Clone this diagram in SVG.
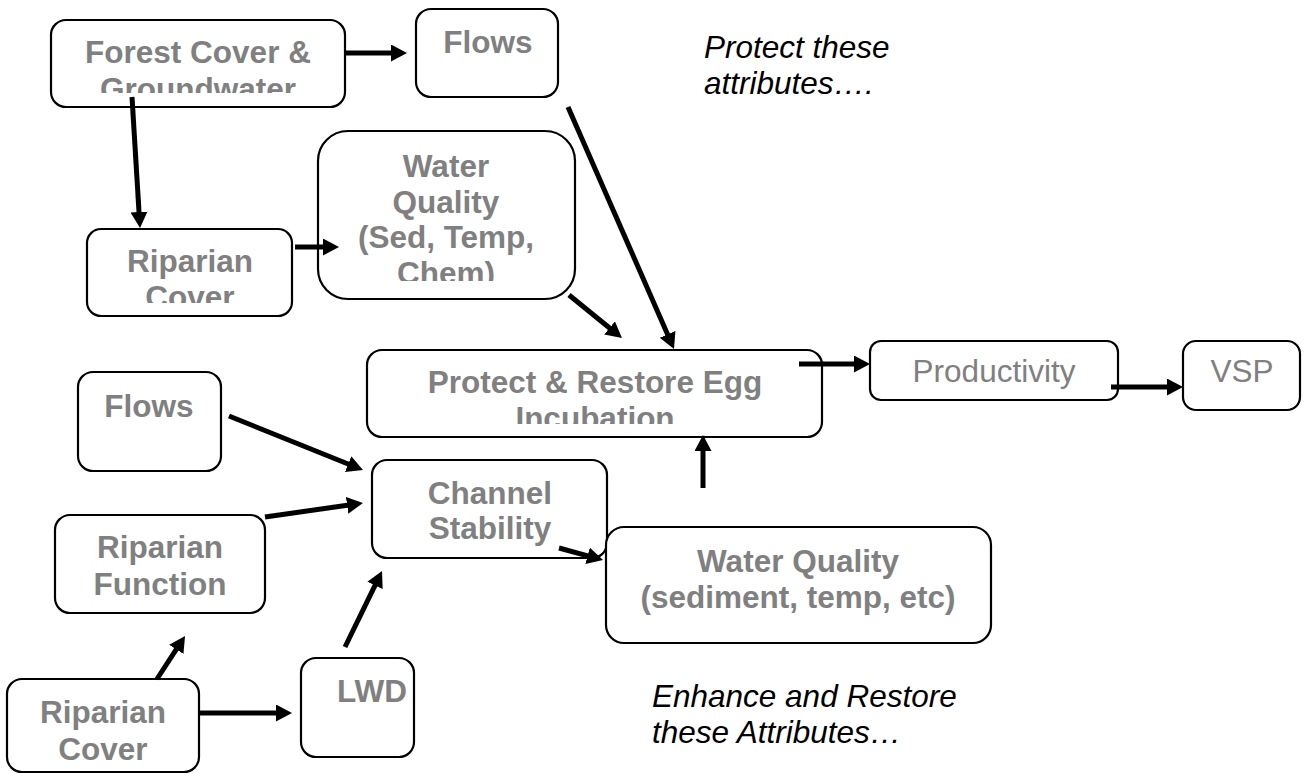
<svg xmlns="http://www.w3.org/2000/svg" width="1309" height="774" viewBox="0 0 1309 774">
<style>
.box{fill:#fff;stroke:#000;stroke-width:2.2}
.t{font-family:"Liberation Sans",Arial,sans-serif;font-size:31.5px;font-weight:bold;fill:#808080;text-anchor:middle}
.tr{font-family:"Liberation Sans",Arial,sans-serif;font-size:31.5px;fill:#808080;text-anchor:middle}
.note{font-family:"Liberation Sans",Arial,sans-serif;font-size:31.5px;font-style:italic;fill:#000}
.c{stroke:#000;stroke-width:5;fill:none;marker-end:url(#ah)}
</style>
<defs>
<marker id="ah" markerUnits="userSpaceOnUse" markerWidth="18" markerHeight="18" refX="2" refY="8.5" orient="auto">
<path d="M0,0 L16,8.5 L0,17 z" fill="#000"/>
</marker>
<clipPath id="cpForest"><rect x="40" y="10" width="320" height="83"/></clipPath>
<clipPath id="cpRip1"><rect x="80" y="220" width="220" height="83"/></clipPath>
<clipPath id="cpWQ1"><rect x="310" y="120" width="270" height="161"/></clipPath>
<clipPath id="cpProtect"><rect x="360" y="340" width="470" height="84"/></clipPath>
</defs>
<g id="nodes">
<g id="forest">
<rect class="box" x="51" y="20" width="294" height="87" rx="15"/>
<g clip-path="url(#cpForest)">
<text class="t" x="198" y="63">Forest Cover &amp;</text>
<text class="t" x="198" y="100">Groundwater</text>
</g>
</g>
<g id="flows1">
<rect class="box" x="416" y="9" width="142" height="88" rx="15"/>
<text class="t" x="488" y="53">Flows</text>
</g>
<g id="ripcover1">
<rect class="box" x="87" y="229" width="205" height="87" rx="14"/>
<g clip-path="url(#cpRip1)">
<text class="t" x="190" y="272">Riparian</text>
<text class="t" x="190" y="308">Cover</text>
</g>
</g>
<g id="wq1">
<rect class="box" x="318" y="131" width="257" height="168" rx="30"/>
<g clip-path="url(#cpWQ1)">
<text class="t" x="446" y="177">Water</text>
<text class="t" x="446" y="213">Quality</text>
<text class="t" x="446" y="248">(Sed, Temp,</text>
<text class="t" x="446" y="284">Chem)</text>
</g>
</g>
<g id="protect">
<rect class="box" x="367" y="350" width="455" height="87" rx="15"/>
<g clip-path="url(#cpProtect)">
<text class="t" x="595" y="393">Protect &amp; Restore Egg</text>
<text class="t" x="595" y="429">Incubation</text>
</g>
</g>
<g id="productivity">
<rect class="box" x="870" y="341" width="248" height="59" rx="11"/>
<text class="tr" x="994" y="382">Productivity</text>
</g>
<g id="vsp">
<rect class="box" x="1183" y="341" width="117" height="69" rx="13"/>
<text class="tr" x="1242" y="382">VSP</text>
</g>
<g id="flows2">
<rect class="box" x="78" y="372" width="143" height="99" rx="15"/>
<text class="t" x="149" y="417">Flows</text>
</g>
<g id="channel">
<rect class="box" x="372" y="460" width="235" height="98" rx="15"/>
<text class="t" x="490" y="504">Channel</text>
<text class="t" x="490" y="539">Stability</text>
</g>
<g id="ripfunction">
<rect class="box" x="55" y="515" width="210" height="98" rx="15"/>
<text class="t" x="160" y="558">Riparian</text>
<text class="t" x="160" y="595">Function</text>
</g>
<g id="wq2">
<rect class="box" x="606" y="527" width="385" height="116" rx="18"/>
<text class="t" x="798" y="572">Water Quality</text>
<text class="t" x="798" y="608">(sediment, temp, etc)</text>
</g>
<g id="ripcover2">
<rect class="box" x="7" y="679" width="192" height="93" rx="15"/>
<text class="t" x="103" y="723">Riparian</text>
<text class="t" x="103" y="760">Cover</text>
</g>
<g id="lwd">
<rect class="box" x="301" y="658" width="113" height="99" rx="15"/>
<text class="t" x="372" y="702">LWD</text>
</g>
</g>
<g id="notes">
<text class="note" x="704" y="58">Protect these</text>
<text class="note" x="704" y="94">attributes….</text>
<text class="note" x="652" y="707">Enhance and Restore</text>
<text class="note" x="652" y="743">these Attributes…</text>
</g>
<g id="connectors">
<line class="c" x1="345" y1="53" x2="393" y2="53"/>
<line class="c" x1="132" y1="97" x2="139.15" y2="214"/>
<line class="c" x1="295" y1="247" x2="325" y2="247"/>
<line class="c" x1="569" y1="295" x2="611.1" y2="329.2"/>
<line class="c" x1="568" y1="107" x2="668.4" y2="336.2"/>
<line class="c" x1="799" y1="364" x2="856" y2="364"/>
<line class="c" x1="1111" y1="387" x2="1169" y2="387"/>
<line class="c" x1="229" y1="416" x2="350" y2="464.8"/>
<line class="c" x1="265" y1="517" x2="349.1" y2="505"/>
<line class="c" x1="157" y1="679" x2="177.4" y2="647.7"/>
<line class="c" x1="199" y1="713" x2="278" y2="713"/>
<line class="c" x1="345" y1="647" x2="375.9" y2="583.6"/>
<line class="c" x1="559" y1="548" x2="589.5" y2="556.3"/>
<line class="c" x1="703" y1="488" x2="703" y2="449"/>
</g>
</svg>
